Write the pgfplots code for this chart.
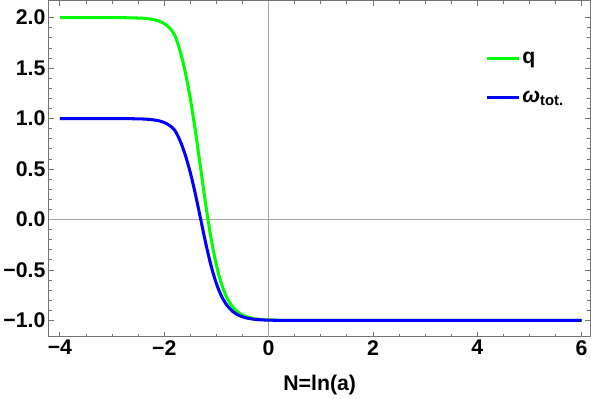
\documentclass[border=0pt]{standalone}
\usepackage{fontspec}
\setmainfont{Liberation Sans}
\usepackage{pgfplots}
\pgfplotsset{compat=1.18}
\definecolor{mgreen}{rgb}{0,1,0}
\definecolor{mblue}{rgb}{0,0,1}
\begin{document}
\begin{tikzpicture}
\begin{axis}[
  scale only axis,
  width=535pt, height=332pt,
  xmin=-4.21, xmax=6.17,
  ymin=-1.16, ymax=2.17,
  axis line style={black!55, line width=1pt},
  tick style={black!55, line width=0.8pt},
  tick align=inside,
  major tick length=5pt,
  minor tick length=3pt,
  xtick={-4,-2,0,2,4,6},
  xticklabels={−4,−2,0,2,4,6},
  minor x tick num=3,
  ytick={-1,-0.5,0,0.5,1,1.5,2},
  yticklabels={−1.0,−0.5,0.0,0.5,1.0,1.5,2.0},
  minor y tick num=4,
  tick label style={font=\fontsize{21}{24}\selectfont\bfseries, black},
  xlabel={N=ln(a)},
  xlabel style={font=\fontsize{21}{24}\selectfont\bfseries, yshift=-13pt},
  legend style={draw=none, fill=none, at={(0.80,0.86)}, anchor=north west,
    font=\fontsize{21}{24}\selectfont\bfseries, row sep=22pt,
    /tikz/every even column/.append style={column sep=10pt}},
  legend cell align=left,
  legend image code/.code={\draw[#1, line width=2.5pt] (0pt,0pt) -- (32pt,0pt);},
]
\draw[black!35, line width=1pt] (axis cs:0,-1.16) -- (axis cs:0,2.17);
\draw[black!35, line width=1pt] (axis cs:-4.21,0) -- (axis cs:6.17,0);
\path (rel axis cs:1,1) ++(5pt,0pt);
% q
\addplot[mgreen, line width=3pt, smooth] coordinates {
(-4.0,2.0) (-3.5,2.0) (-3.0,1.99978) (-2.75,1.99925) (-2.5,1.99639)
(-2.4,1.99367) (-2.3,1.98895) (-2.2,1.98070) (-2.1,1.96639) (-2.0,1.94164)
(-1.9,1.89929) (-1.8,1.82803) (-1.7,1.6775) (-1.6,1.4675) (-1.5,1.1975)
(-1.4,0.8675) (-1.3,0.5) (-1.2,0.13262) (-1.1,-0.19318) (-1.0,-0.45273)
(-0.9,-0.64239) (-0.8,-0.77242) (-0.7,-0.85773) (-0.6,-0.91207) (-0.5,-0.94605)
(-0.4,-0.96705) (-0.3,-0.97992) (-0.2,-0.98779) (-0.1,-0.99258) (0.0,-0.99550)
(0.25,-0.99871) (0.5,-0.99963) (1.0,-0.99997) (2.0,-1.0) (4.0,-1.0) (6.0,-1.0)
};
\addlegendentry{q}
% w_tot
\addplot[mblue, line width=3pt, smooth] coordinates {
(-4.0,1.0) (-3.5,0.99999) (-3.0,0.99985) (-2.75,0.9995) (-2.5,0.99759)
(-2.4,0.99578) (-2.3,0.99263) (-2.2,0.98713) (-2.1,0.97759) (-2.0,0.96109)
(-1.9,0.93286) (-1.8,0.88535) (-1.7,0.785) (-1.6,0.645) (-1.5,0.465)
(-1.4,0.245) (-1.3,0.0) (-1.2,-0.24492) (-1.1,-0.46212) (-1.0,-0.63515)
(-0.9,-0.76159) (-0.8,-0.84828) (-0.7,-0.90515) (-0.6,-0.94138) (-0.5,-0.96403)
(-0.4,-0.97803) (-0.3,-0.98661) (-0.2,-0.99186) (-0.1,-0.99505) (0.0,-0.99700)
(0.25,-0.99914) (0.5,-0.99975) (1.0,-0.99998) (2.0,-1.0) (4.0,-1.0) (6.0,-1.0)
};
\addlegendentry{\textit{ω}\textsubscript{tot.}}
\end{axis}
\end{tikzpicture}
\end{document}
